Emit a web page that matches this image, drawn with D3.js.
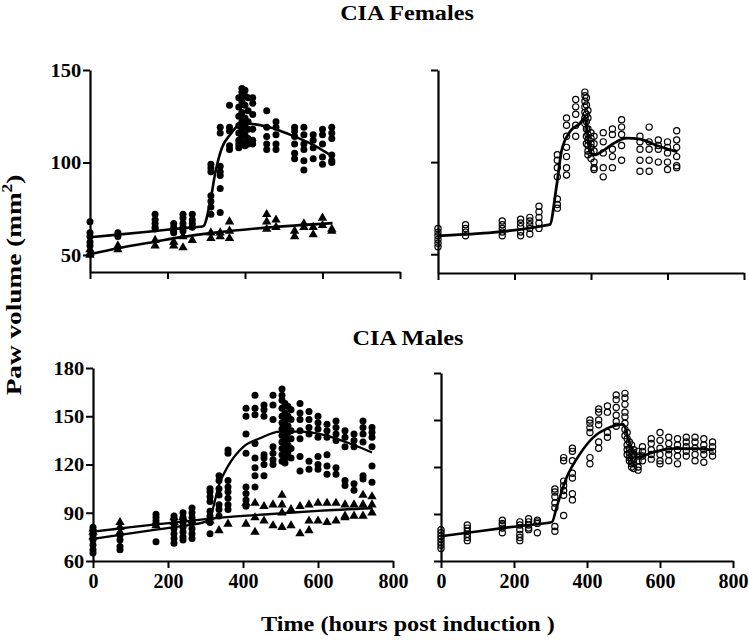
<!DOCTYPE html>
<html><head><meta charset="utf-8">
<script src="https://cdn.jsdelivr.net/npm/d3@7"></script>
<style>
body{margin:0;background:#fff;}
svg{display:block;}
text{font-family:"Liberation Serif","Times New Roman",serif;font-weight:bold;fill:#000;}
</style></head><body>
<svg id="c" width="749" height="640"></svg>
<script>
// ---------- tick labels ----------
const xTicks = [0, 200, 400, 600, 800];
const yTicksF = [50, 100, 150];
const yTicksM = [60, 90, 120, 150, 180];

// ---------- CIA Females, left: filled circles (arthritic) ----------
const fCiaT = [0,72,168,216,240,264,312,336,360,384,392,400,408,420,456,480,528,552,576,600,624];
const fCiaV = [
 [68,62,60,57,55],[62,60],[72,69,67,65,64],[67,65,63,62],[72,70,67,65,63],[72,69,67,65],
 [99,97,95,82,79,76,72],[119,116,98,95,93,86,73],[131,119,117,109,107],
 [135,130,125,120,116,112,110,108],[140,138,133,127,122,118,114,110],[139,136,131,124,119,115,111,109],
 [135,128,122,118,113,110],[135,132,126,118,112,110],
 [128,119,114,110,107],[122,119,115,110,107],[119,117,114,110,105,102],[119,115,110,107,101,96],
 [115,112,108,102],[118,115,110,103,99],[119,116,113,104,101,100]
];
// filled triangles (controls)
const fCtlT = [0,72,168,216,240,264,312,336,360,456,480,528,552,576,600,624];
const fCtlV = [[53,51,50],[55,53],[58,55],[57,55],[54,60],[58],[62,59],[62,60],[68,63,59],
 [72,68,64],[69,65],[63,60],[67,65],[65,61],[70,66],[64,63]];
// fitted curves
const fCiaFitT = [0,72,168,240,292,311,323,340,361,385,404,456,490,529,576,626];
const fCiaFitV = [59.6,61,63,64.5,65.5,79.7,94,107.7,114.9,120.3,121,119.4,117.2,114,109.5,103.2];
const fCtlFitT = [0,72,168,240,312,456,626];
const fCtlFitV = [50.4,53.6,57.2,59.8,61.8,64.8,67.2];

// ---------- CIA Females, right: open circles ----------
const fModT = [0,72,168,216,240,264,312,336,360,384,388,392,400,408,432,456,480,528,552,576,600,624];
const fModV = [
 [64,62,60,58,56,54],[66,64,62,60],[68,66,64,62,60],[69,67,65,62,60],[70,68,66,64,61],[76,73,70,67,64],
 [104,101,97,92,80,77,75],[124,120,114,108,103,97,93],[134,130,126,120,114],
 [138,136,133,130,127,124,121],[135,131,126,122,118,114,110],[128,124,118,115,112,109,106,104],
 [116,113,110,108,105,102],[114,110,106,100,97,96],[116,111,105,97,92],[118,115,107,103,97],
 [123,119,115,109,101],[114,111,107,101,95],[119,111,107,101,95],[112,109,107,100],
 [111,108,105,100,96],[117,112,108,103,98,97]
];
const fModFitT = [0,292,310,323,345,371,384,388,394,402,412,430,458,493,528,572,626];
const fModFitV = [60,66,87,106,116.5,121,124,120,110,104.5,104,106,110,113,112.5,109,105.6];

// ---------- CIA Males, left ----------
const mCiaT = [0,72,168,216,240,264,312,336,360,408,432,456,480,504,512,520,528,552,576,600,624,648,672,696,720,744];
const mCiaV = [
 [81,79,76,73,70,67,65],[76,73,69,67],[89,87,85,83,72],[88,86,83,80,77,74,71],[90,87,84,81,78,75,73],
 [93,90,87,84,80,77,74],[105,103,100,97,91,88,84,77],[113,110,105,101,95,92,88],
 [129,127,110,106,103,99,95,92],[155,150,139,127,106,102,98,94],[163,155,151,133,124,118,113,106],
 [157,154,150,126,124,120,113],[163,157,148,131,127,123,120],
 [167,163,160,155,150,146,142,138,134,130,126,122],[158,152,147,143,139,135,131,127,124,121],
 [156,150,144,140,136,132,128,125],[154,148,141,136,130,124],[158,152,148,141,136,125,116],
 [153,148,143,139,122,117],[150,146,142,137,125,120,117],[145,141,137,126,119,114],
 [147,143,139,135,118,114],[141,137,131,110,107],[139,135,131,108,104],
 [147,143,139,134,113,111],[143,140,137,131,119,109]
];
const mCtlT = [0,72,168,216,240,264,312,336,360,408,432,456,480,504,528,552,576,600,624,648,672,696,720,744];
const mCtlV = [[80,78,75],[84,81,78],[84,82],[87,84],[87],[85],[87,85],[79],[83],[96,83],[96,87,78],
 [94,85],[95,82],[101,95,90,81],[92,82],[94,77],[95,85,79],[96,85],[96,84],[96,85],[95,88,87],
 [95,88],[101,95,88],[100,95,90]];
const mCiaFitT = [0,72,168,240,300,311,337,360,401,445,499,552,623,680,744];
const mCiaFitV = [73.7,76.3,79.5,81.8,84.5,86.5,108,119,131,136.3,140.4,140.4,138,133.5,127.5];
const mCtlFitT = [0,72,168,240,312,400,500,600,744];
const mCtlFitV = [78.2,80.2,82.8,84.5,86.3,88,89.6,91.2,92.8];

// ---------- CIA Males, right: open circles ----------
const mModT = [0,72,168,216,240,264,312,336,360,408,432,456,480,504,510,516,522,528,540,552,576,600,624,648,672,696,720,744];
const mModV = [
 [80,78,76,74,72,70,68],[83,81,79,77,75,73],[86,84,83,81,78],[85,83,80,77,75,73],[87,85,83,81,80],
 [86,85,84,78],[106,104,101,97,94,82,79],[126,124,111,108,105,102,89],[132,130,124,116,113,103,99],
 [150,148,145,142,126,122],[157,155,150,147,136,132],[159,155,142,139],[166,163,158,153,149,146],
 [167,164,160,155,152,148,144,140],[142,138,134,131,128],[136,132,129,126,124],
 [134,130,127,124,122,120],[131,128,125,122,119],[130,127,124,120,118],[133,130,127,124],
 [138,135,131,128,125],[142,137,132,128,124,122],[139,135,131,128,124],[138,134,131,127,122],
 [139,136,133,130,127],[139,136,132,128,124],[138,134,131,128,123],[136,133,130,127]
];
const mModFitT = [0,72,168,240,304,317,345,381,418,454,500,514,527,541,582,637,701,747];
const mModFitV = [75.8,78,81,83,84.9,94.5,113.7,128.5,139.1,144.5,147.2,137,129.5,126.4,129.5,131.7,131.7,130.6];

// ---------- helpers ----------
const flat = (T, V) => T.flatMap((t, i) => V[i].map(v => [t, v]));
const pairs = (T, V) => T.map((t, i) => [t, V[i]]);

const svg = d3.select("#c");

function panel(cfg) {
  const x = d3.scaleLinear().domain([0, 800]).range([cfg.x0, cfg.x1]);
  const y = d3.scaleLinear().domain(cfg.yDom).range([cfg.yB, cfg.yT]);
  const g = svg.append("g");

  // x axis
  const xa = d3.axisBottom(x).tickValues(xTicks).tickSize(7).tickSizeOuter(0).tickPadding(6)
    .tickFormat(cfg.xLabels ? d3.format("d") : "");
  const gx = g.append("g").attr("transform", `translate(0,${cfg.yB})`).call(xa);
  gx.selectAll(".tick text").attr("font-size", 20).style("font-family", "Liberation Serif")
    .style("font-weight", "bold");
  // y axis
  const ya = d3.axisLeft(y).tickValues(cfg.yTicks).tickSize(7).tickSizeOuter(0).tickPadding(1)
    .tickFormat(cfg.yLabels ? d3.format("d") : "");
  const gy = g.append("g").attr("transform", `translate(${cfg.x0},0)`).call(ya);
  gy.selectAll(".tick text").attr("font-size", 19).style("font-family", "Liberation Serif")
    .style("font-weight", "bold").attr("transform", "scale(1.08,1)").attr("dy", "0.34em");
  [gx, gy].forEach(a => {
    a.select(".domain").attr("stroke", "#000").attr("stroke-width", 2.2);
    a.selectAll(".tick line").attr("stroke", "#000").attr("stroke-width", 2);
  });

  // points
  cfg.series.forEach(s => {
    const pts = flat(s.T, s.V);
    if (s.shape === "tri") {
      g.append("g").selectAll("path").data(pts).join("path")
        .attr("transform", d => `translate(${x(d[0])},${y(d[1])})`)
        .attr("d", d3.symbol(d3.symbolTriangle, 38)).attr("fill", "#000");
    } else if (s.shape === "open") {
      g.append("g").selectAll("circle").data(pts).join("circle")
        .attr("cx", d => x(d[0])).attr("cy", d => y(d[1])).attr("r", 3.1)
        .attr("fill", "none").attr("stroke", "#000").attr("stroke-width", 1.2);
    } else {
      g.append("g").selectAll("circle").data(pts).join("circle")
        .attr("cx", d => x(d[0])).attr("cy", d => y(d[1])).attr("r", 3.5).attr("fill", "#000");
    }
  });
  // fitted curves
  const line = d3.line().x(d => x(d[0])).y(d => y(d[1])).curve(d3.curveMonotoneX);
  cfg.fits.forEach(f => {
    g.append("path").attr("d", line(pairs(f.T, f.V))).attr("fill", "none")
      .attr("stroke", "#000").attr("stroke-width", cfg.lw).attr("stroke-linejoin", "round");
  });
}

panel({x0: 90, x1: 400, yB: 272, yT: 70, yDom: [40.8, 150], yTicks: yTicksF, xLabels: false, yLabels: true, lw: 2.6,
  series: [{T: fCiaT, V: fCiaV, shape: "dot"}, {T: fCtlT, V: fCtlV, shape: "tri"}],
  fits: [{T: fCiaFitT, V: fCiaFitV}, {T: fCtlFitT, V: fCtlFitV}]});
panel({x0: 438, x1: 744, yB: 273, yT: 70, yDom: [39.8, 150], yTicks: yTicksF, xLabels: false, yLabels: false, lw: 2.8,
  series: [{T: fModT, V: fModV, shape: "open"}],
  fits: [{T: fModFitT, V: fModFitV}]});
panel({x0: 93, x1: 393, yB: 561, yT: 368, yDom: [60, 180], yTicks: yTicksM, xLabels: true, yLabels: true, lw: 2.3,
  series: [{T: mCiaT, V: mCiaV, shape: "dot"}, {T: mCtlT, V: mCtlV, shape: "tri"}],
  fits: [{T: mCiaFitT, V: mCiaFitV}, {T: mCtlFitT, V: mCtlFitV}]});
panel({x0: 441, x1: 733, yB: 561, yT: 373, yDom: [60, 180], yTicks: yTicksM, xLabels: true, yLabels: false, lw: 2.6,
  series: [{T: mModT, V: mModV, shape: "open"}],
  fits: [{T: mModFitT, V: mModFitV}]});

// titles
const SX = 1.1;
function stext(str, cx, baseY, size, sx) {
  svg.append("text").attr("x", cx / sx).attr("y", baseY).attr("text-anchor", "middle")
    .attr("font-size", size).attr("transform", `scale(${sx},1)`).text(str);
}
stext("CIA Females", 407, 20, 22, SX);
stext("CIA Males", 408, 345, 22, SX);
stext("Time (hours post induction )", 408, 631, 22, SX);

// y label
const yl = svg.append("text").attr("transform", "translate(21,285) rotate(-90) scale(1.24,1)")
  .attr("text-anchor", "middle").attr("font-size", 22);
yl.append("tspan").text("Paw volume (mm");
yl.append("tspan").attr("font-size", 14).attr("dy", -9).text("2");
yl.append("tspan").attr("dy", 9).text(")");
</script></body></html>
